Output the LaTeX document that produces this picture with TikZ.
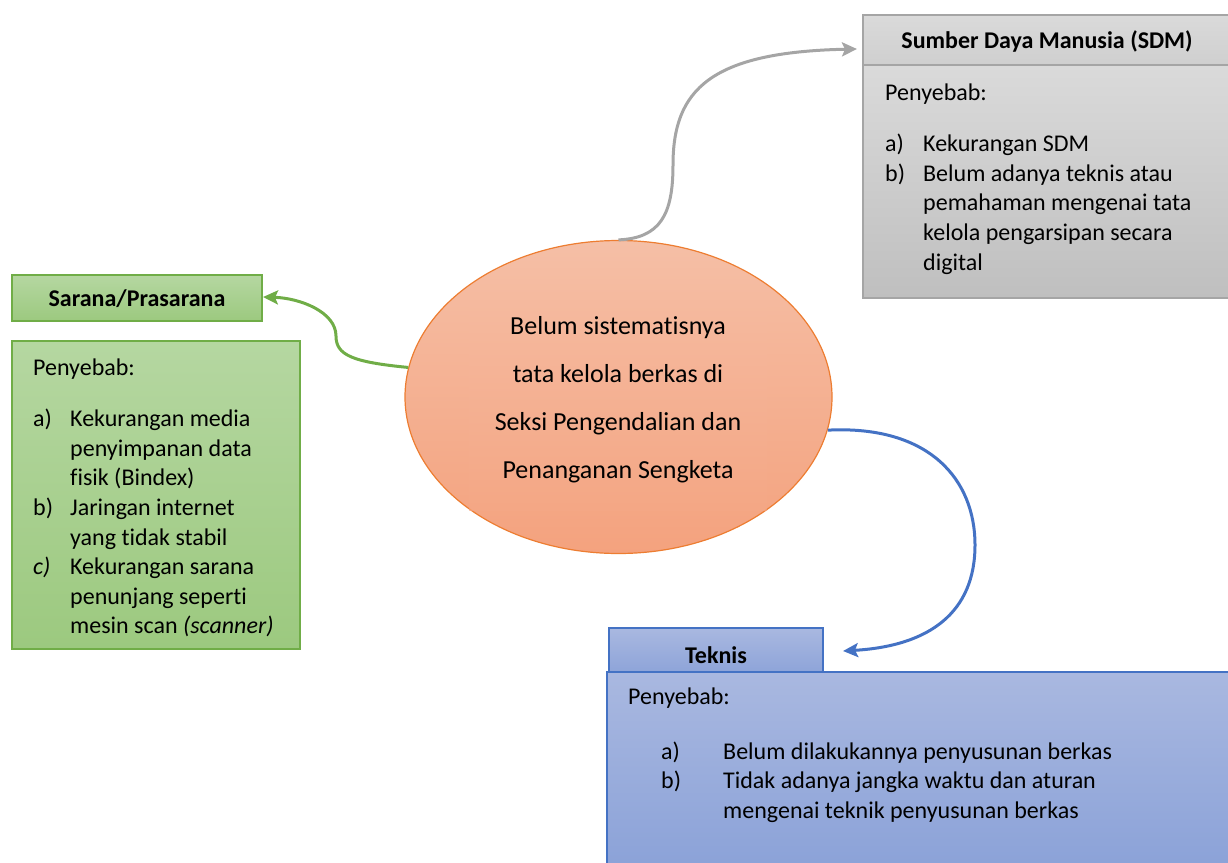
\documentclass[tikz,border=0pt]{standalone}
\usepackage{fontspec}
\setmainfont[Ligatures={NoCommon}]{Carlito}
\usetikzlibrary{shapes.geometric,arrows.meta,calc}
\definecolor{grayB}{HTML}{A5A5A5}
\definecolor{grayT}{HTML}{DADADA}
\definecolor{grayM}{HTML}{CFCFCF}
\definecolor{grayD}{HTML}{BFBFBF}
\definecolor{greenB}{HTML}{70AD47}
\definecolor{greenT}{HTML}{B5D7A1}
\definecolor{greenD}{HTML}{9CC97F}
\definecolor{blueB}{HTML}{4472C4}
\definecolor{blueT}{HTML}{A9B8E0}
\definecolor{blueD}{HTML}{8BA2D8}
\definecolor{orB}{HTML}{ED7D31}
\definecolor{orT}{HTML}{F5BFA6}
\definecolor{orD}{HTML}{F4A27E}
\newcommand\lbl[2]{\makebox[#1][l]{#2}}
\begin{document}
\begin{tikzpicture}[x=1pt,y=-1pt,
  box/.style={rectangle,draw,line width=1.2pt,inner sep=0pt},
  graybox/.style={box,draw=grayB,top color=grayT,bottom color=grayD},
  greenbox/.style={box,draw=greenB,top color=greenT,bottom color=greenD},
  bluebox/.style={box,draw=blueB,top color=blueT,bottom color=blueD},
  head/.style={font=\fontsize{24}{28}\selectfont\bfseries},
  body/.style={anchor=base west,inner sep=0pt,font=\fontsize{24}{29.6}\selectfont},
  conn/.style={line width=3pt,-{Stealth[length=15pt,width=14pt,inset=3pt]}}
]
\useasboundingbox (0,0) rectangle (1228,862);

% SDM
\node[graybox,minimum width=369,minimum height=233] (sdmb) at (1047.5,181.5) {};
\node[graybox,top color=grayT,bottom color=grayM,minimum width=369,minimum height=50] (sdmh) at (1047.5,40) {};
\node[head] (sdmt) at (1047,41) {Sumber Daya Manusia (SDM)};
\node[body] (sdmx) at (885,100) {\begin{tabular}[t]{@{}l@{}}
Penyebab:\\[22pt]
\lbl{38pt}{a)}Kekurangan SDM\\
\lbl{38pt}{b)}Belum adanya teknis atau\\
\lbl{38pt}{}pemahaman mengenai tata\\
\lbl{38pt}{}kelola pengarsipan secara\\
\lbl{38pt}{}digital
\end{tabular}};

% Sarana
\node[greenbox,minimum width=250,minimum height=46] (sarh) at (137,298) {};
\node[head] (sart) at (137,299) {Sarana/Prasarana};
\node[greenbox,minimum width=288,minimum height=308] (sarb) at (156,495) {};
\node[body] (sarx) at (33,375) {\begin{tabular}[t]{@{}l@{}}
Penyebab:\\[22pt]
\lbl{37pt}{a)}Kekurangan media\\
\lbl{37pt}{}penyimpanan data\\
\lbl{37pt}{}fisik (Bindex)\\
\lbl{37pt}{b)}Jaringan internet\\
\lbl{37pt}{}yang tidak stabil\\
\lbl{37pt}{\itshape c)}Kekurangan sarana\\
\lbl{37pt}{}penunjang seperti\\
\lbl{37pt}{}mesin scan \textit{(scanner)}
\end{tabular}};

% Teknis
\node[bluebox,minimum width=625,minimum height=196] (tekb) at (919.5,770) {};
\node[bluebox,top color=blueT,bottom color=blueD!90!blueT,minimum width=214,minimum height=44] (tekh) at (716,650) {};
\node[head] (tekt) at (716,655) {Teknis};
\node[body] (tekp) at (628,704) {Penyebab:};
\node[body] (tekx) at (661,759) {\begin{tabular}[t]{@{}l@{}}
\lbl{62pt}{a)}Belum dilakukannya penyusunan berkas\\
\lbl{62pt}{b)}Tidak adanya jangka waktu dan aturan\\
\lbl{62pt}{}mengenai teknik penyusunan berkas
\end{tabular}};

% Central ellipse
\node[ellipse,draw=orB,line width=1.2pt,top color=orT,bottom color=orD,
      minimum width=427,minimum height=313,inner sep=0pt] (ell) at (618.5,397) {};
\node[rectangle,inner sep=0pt,minimum width=298,minimum height=215,
      top color=orT!85!orD,bottom color=orD!80!orT,opacity=0.6] (ellbox) at (618,403) {};
\node[align=center,font=\fontsize{26}{48}\selectfont,inner sep=0pt] (ellt) at (618,400)
  {Belum sistematisnya\\tata kelola berkas di\\Seksi Pengendalian dan\\Penanganan Sengketa};

% connectors
\coordinate (gend) at (857,49);
\coordinate (rend) at (263,297);
\coordinate (bend) at (843,651);
\draw[conn,draw=grayB] (ell.north) .. controls (660,238) and (673,215) .. (673,165)
  .. controls (673,90) and (710,52) .. (gend);
\draw[conn,draw=greenB] (ell.172) .. controls (352,362) and (336,355) .. (336,336)
  .. controls (336,312) and (300,298) .. (rend);
\draw[conn,draw=blueB] (ell.-9) .. controls (930,425) and (975,480) .. (975,545)
  .. controls (975,612) and (930,646) .. (bend);
\end{tikzpicture}
\end{document}
